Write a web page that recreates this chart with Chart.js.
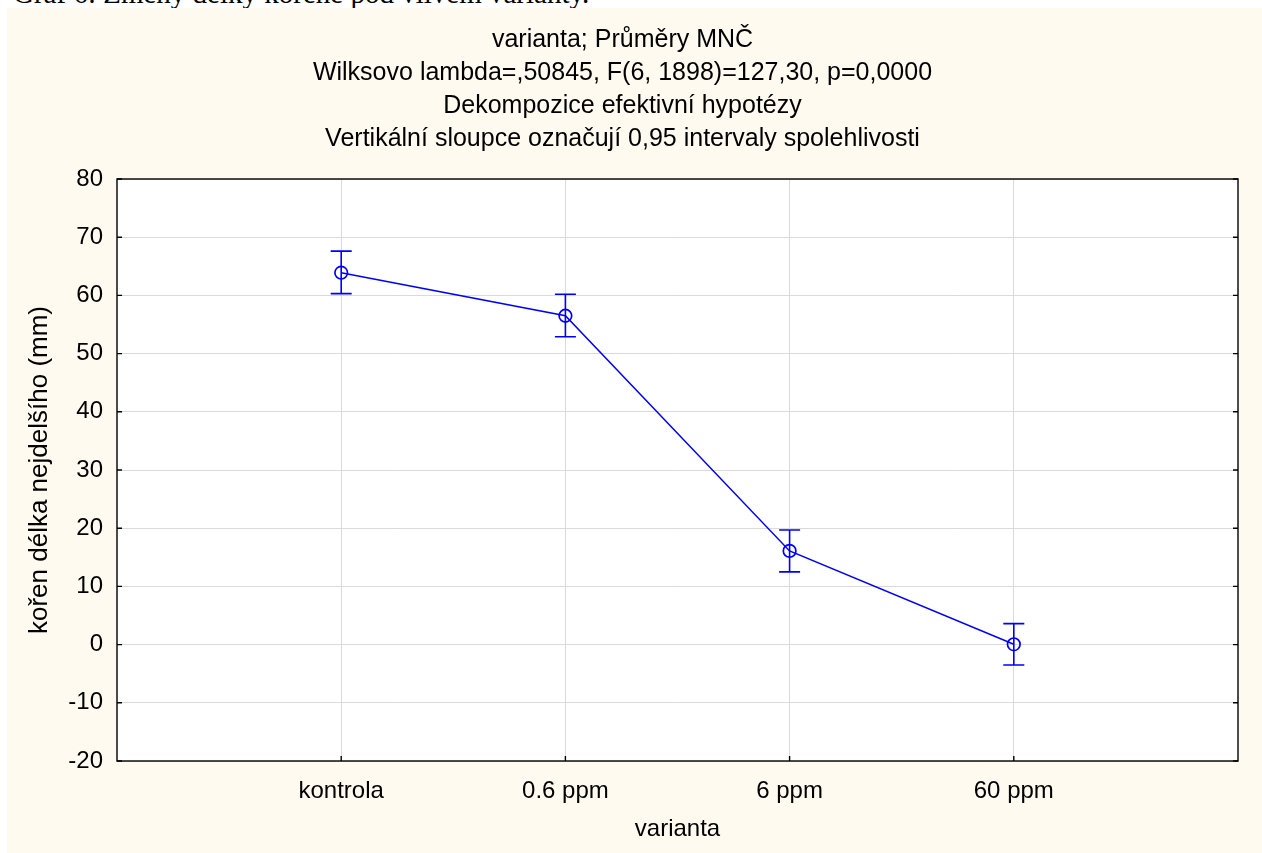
<!DOCTYPE html>
<html>
<head>
<meta charset="utf-8">
<script src="https://cdn.jsdelivr.net/npm/chart.js@4.4.1/dist/chart.umd.min.js"></script>
<style>
  html, body { margin: 0; padding: 0; background: #fff; }
  body { width: 1262px; height: 853px; position: relative; overflow: hidden; }
  .caption {
    position: absolute; left: 13px; top: -21px;
    font: 29px "Liberation Serif", "Times New Roman", serif; line-height: 29px;
    color: #000; white-space: nowrap;
  }
  .panel {
    position: absolute; left: 7px; top: 8px; width: 1255px; height: 845px;
    background: #fffaf0;
  }
</style>
</head>
<body>
<div class="caption">Graf 6: Změny délky kořene pod vlivem varianty.</div>
<div class="panel"><canvas id="chart" width="1255" height="845"></canvas></div>
<script>
// data
const categories = ['kontrola', '0.6 ppm', '6 ppm', '60 ppm'];
const means = [63.9, 56.5, 16.1, 0.05];
const ciLow = [60.3, 52.9, 12.5, -3.5];
const ciHigh = [67.6, 60.2, 19.7, 3.6];
const yTicks = [-20, -10, 0, 10, 20, 30, 40, 50, 60, 70, 80];

const titleLines = [
  'varianta; Průměry MNČ',
  'Wilksovo lambda=,50845, F(6, 1898)=127,30, p=0,0000',
  'Dekompozice efektivní hypotézy',
  'Vertikální sloupce označují 0,95 intervaly spolehlivosti'
];

const FONT = '"Liberation Sans", Arial, sans-serif';
const BLUE = '#0000ff';

// white plot area, frame, inward ticks and error bars
const framePlugin = {
  id: 'frame',
  beforeDraw(chart) {
    const { ctx, chartArea: a } = chart;
    ctx.save();
    ctx.fillStyle = '#fff';
    ctx.fillRect(a.left, a.top, a.right - a.left, a.bottom - a.top);
    ctx.restore();
  },
  afterDatasetsDraw(chart) {
    const { ctx, chartArea: a, scales } = chart;
    const x = scales.x, y = scales.y;
    ctx.save();
    // error bars
    ctx.strokeStyle = BLUE;
    ctx.lineWidth = 1.6;
    means.forEach((m, i) => {
      const px = x.getPixelForValue(i + 1);
      const lo = y.getPixelForValue(ciLow[i]);
      const hi = y.getPixelForValue(ciHigh[i]);
      ctx.beginPath();
      ctx.moveTo(px, lo); ctx.lineTo(px, hi);
      ctx.moveTo(px - 10.5, lo); ctx.lineTo(px + 10.5, lo);
      ctx.moveTo(px - 10.5, hi); ctx.lineTo(px + 10.5, hi);
      ctx.stroke();
    });
    // frame
    ctx.strokeStyle = '#000';
    ctx.lineWidth = 1.4;
    ctx.strokeRect(a.left, a.top, a.right - a.left, a.bottom - a.top);
    // inward ticks
    ctx.beginPath();
    yTicks.forEach(v => {
      const py = y.getPixelForValue(v);
      ctx.moveTo(a.left, py); ctx.lineTo(a.left + 5, py);
      ctx.moveTo(a.right, py); ctx.lineTo(a.right - 5, py);
    });
    categories.forEach((c, i) => {
      const px = x.getPixelForValue(i + 1);
      ctx.moveTo(px, a.bottom); ctx.lineTo(px, a.bottom - 5);
    });
    ctx.stroke();
    ctx.restore();
  }
};

new Chart(document.getElementById('chart'), {
  type: 'line',
  data: {
    datasets: [{
      data: means.map((m, i) => ({ x: i + 1, y: m })),
      borderColor: BLUE,
      borderWidth: 1.5,
      pointStyle: 'circle',
      pointRadius: 6.3,
      pointBorderWidth: 1.7,
      pointBorderColor: BLUE,
      pointBackgroundColor: 'rgba(0,0,0,0)',
      tension: 0
    }]
  },
  options: {
    responsive: false,
    animation: false,
    layout: { padding: { left: 0, right: 24, top: 0, bottom: 0 } },
    plugins: {
      legend: { display: false },
      tooltip: { enabled: false },
      title: {
        display: true,
        text: titleLines,
        color: '#000',
        font: { family: FONT, size: 25, weight: 'normal', lineHeight: 33 / 25 },
        padding: { top: 15.5, bottom: 23.5 }
      }
    },
    scales: {
      x: {
        type: 'linear',
        min: 0,
        max: 5,
        afterBuildTicks(scale) {
          scale.ticks = categories.map((c, i) => ({ value: i + 1 }));
        },
        afterFit(scale) { scale.height = 92; },
        ticks: {
          color: '#000',
          font: { family: FONT, size: 24 },
          padding: 15.6,
          maxRotation: 0,
          autoSkip: false,
          callback: (v) => categories[v - 1]
        },
        grid: { color: '#dadada', lineWidth: 1, drawTicks: false },
        border: { display: false },
        title: {
          display: true,
          text: 'varianta',
          color: '#000',
          font: { family: FONT, size: 24 },
          padding: { top: 0, bottom: 9.6 }
        }
      },
      y: {
        min: -20,
        max: 80,
        afterBuildTicks(scale) {
          scale.ticks = yTicks.map(v => ({ value: v }));
        },
        afterFit(scale) { scale.width = 110; },
        ticks: {
          color: '#000',
          font: { family: FONT, size: 24 },
          padding: 14
        },
        grid: { color: '#dadada', lineWidth: 1, drawTicks: false },
        border: { display: false },
        title: {
          display: true,
          text: 'kořen délka nejdelšího (mm)',
          color: '#000',
          font: { family: FONT, size: 26 },
          padding: { top: 17.4, bottom: 0 }
        }
      }
    }
  },
  plugins: [framePlugin]
});
</script>
</body>
</html>
